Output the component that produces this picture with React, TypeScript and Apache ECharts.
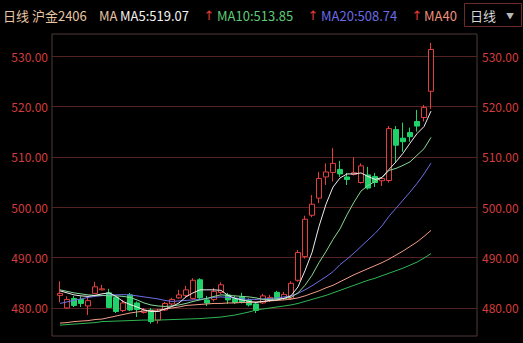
import React, { useEffect, useRef } from 'react';
import * as echarts from 'echarts';

const title = '日线 沪金2406';
const periodLabel = '日线';
const yTicks = [480, 490, 500, 510, 520, 530];
const yMin = 474.44;
const yMax = 534.37;

const opens = [482.5, 480.0, 481.9, 481.7, 480.4, 482.9, 483.6, 483.0, 482.1, 479.5, 482.6, 481.0, 479.1, 479.6, 477.6, 479.6, 480.8, 482.0, 482.5, 481.9, 485.6, 481.6, 481.7, 483.1, 482.6, 481.9, 482.2, 481.5, 480.8, 481.0, 481.5, 483.1, 481.9, 481.9, 485.5, 490.2, 498.4, 501.8, 506.0, 506.9, 507.5, 506.0, 506.5, 504.9, 506.4, 506.1, 505.25, 505.3, 515.4, 513.7, 514.8, 517.0, 517.8, 523.0];
const closes = [482.9, 481.7, 480.5, 480.9, 481.45, 484.2, 483.8, 480.1, 479.3, 481.0, 479.6, 479.7, 479.6, 477.3, 479.3, 480.9, 481.7, 482.6, 483.6, 485.5, 482.0, 481.0, 483.3, 484.6, 481.6, 481.1, 481.2, 480.6, 479.5, 482.4, 482.1, 481.9, 482.7, 484.9, 491.0, 497.6, 500.6, 505.7, 507.0, 508.7, 506.6, 505.5, 506.85, 508.2, 503.8, 504.9, 505.7, 515.6, 512.3, 513.0, 514.0, 516.1, 519.8, 531.3];
const lows = [481.1, 479.8, 480.2, 480.2, 478.6, 482.9, 483.5, 480.0, 479.0, 479.2, 479.4, 478.2, 478.9, 476.9, 476.9, 479.4, 480.5, 481.8, 482.2, 481.7, 481.7, 480.4, 481.3, 482.8, 480.8, 480.8, 480.9, 480.3, 479.0, 480.8, 481.2, 481.7, 481.6, 481.6, 485.2, 489.8, 498.0, 500.8, 504.4, 505.1, 506.0, 504.4, 506.3, 504.7, 503.5, 504.0, 504.2, 504.9, 508.8, 511.0, 513.0, 515.0, 517.0, 519.5];
const highs = [485.3, 482.3, 482.4, 482.3, 482.2, 485.2, 484.6, 483.8, 482.3, 481.6, 483.0, 481.3, 480.0, 480.0, 479.8, 481.2, 482.0, 483.6, 484.4, 485.9, 485.9, 482.4, 484.0, 485.1, 483.0, 482.4, 483.0, 481.9, 481.1, 482.8, 482.6, 483.4, 483.2, 485.3, 491.5, 498.3, 502.4, 507.0, 508.7, 511.7, 509.2, 506.8, 509.9, 508.7, 508.0, 506.8, 506.0, 516.1, 516.1, 516.8, 515.8, 519.3, 520.3, 532.6];

const ma5 = [483.4, 483.0, 482.6, 482.4, 482.3, 482.5, 482.8, 483.0, 482.3, 481.3, 480.7, 480.2, 479.6, 479.3, 479.3, 479.8, 480.3, 481.0, 482.2, 483.0, 483.6, 483.6, 483.6, 483.5, 482.5, 481.9, 481.6, 481.3, 481.1, 481.3, 481.5, 481.6, 481.9, 482.4, 484.2, 487.4, 491.0, 496.2, 500.6, 504.0, 505.8, 506.6, 506.6, 506.8, 506.1, 505.5, 505.9, 507.5, 509.0, 510.7, 512.7, 514.6, 516.0, 519.07];
const ma10 = [483.6, 483.3, 483.0, 482.8, 482.6, 482.5, 482.5, 482.4, 482.4, 482.3, 482.1, 481.6, 481.0, 480.6, 480.4, 480.3, 480.4, 480.6, 480.9, 481.3, 481.6, 481.9, 482.3, 482.6, 482.5, 482.4, 482.3, 482.2, 482.0, 481.7, 481.7, 481.8, 481.9, 482.1, 483.0, 484.5, 486.5, 489.0, 491.2, 493.6, 495.7, 498.5, 501.0, 503.2, 504.3, 505.1, 505.9, 507.3, 507.7, 508.3, 509.0, 510.3, 511.6, 513.85];
const ma20 = [480.9, 481.2, 481.5, 481.8, 482.1, 482.3, 482.45, 482.55, 482.6, 482.65, 482.6, 482.4, 482.2, 482.0, 481.8, 481.5, 481.3, 481.4, 481.5, 481.6, 481.7, 481.9, 482.1, 482.2, 482.1, 482.0, 481.8, 481.7, 481.7, 481.8, 481.9, 482.0, 482.2, 482.4, 482.9, 483.6, 484.4, 485.3, 486.2, 487.2, 488.6, 489.7, 490.9, 492.2, 493.5, 494.8, 496.3, 498.2, 499.8, 501.4, 503.0, 504.7, 506.6, 508.74];
const ma40 = [477.0, 477.1, 477.3, 477.4, 477.5, 477.7, 477.8, 478.1, 478.4, 478.7, 479.0, 479.2, 479.4, 479.5, 479.6, 479.8, 480.0, 480.2, 480.5, 480.6, 480.7, 480.8, 480.9, 480.9, 481.0, 481.0, 481.1, 481.1, 481.2, 481.25, 481.4, 481.5, 481.6, 481.75, 482.0, 482.4, 482.9, 483.4, 484.0, 484.5, 485.2, 485.9, 486.6, 487.2, 487.8, 488.4, 489.0, 489.7, 490.5, 491.3, 492.2, 493.1, 494.2, 495.4];
const ma60 = [476.6, 476.7, 476.8, 476.9, 477.0, 477.1, 477.3, 477.35, 477.4, 477.45, 477.5, 477.55, 477.6, 477.6, 477.6, 477.65, 477.7, 477.75, 477.8, 477.85, 477.9, 478.0, 478.1, 478.2, 478.4, 478.6, 478.9, 479.2, 479.6, 479.8, 480.0, 480.2, 480.4, 480.6, 480.9, 481.3, 481.7, 482.1, 482.5, 483.0, 483.5, 484.0, 484.5, 485.0, 485.5, 485.9, 486.4, 486.9, 487.4, 487.9, 488.5, 489.1, 489.9, 490.8];

const FONT = "'Noto Sans CJK SC', 'Noto Sans', sans-serif";
const UP = '#e2403e';
const DOWN = '#1fd36a';
const C_MA5 = '#ececec';
const C_MA10 = '#86d996';
const C_MA20 = '#6e6ee6';
const C_MA40 = '#f29a86';
const C_MA60 = '#2fb552';

export default function App() {
  const ref = useRef<HTMLDivElement>(null);
  useEffect(() => {
    document.body.style.margin = '0';
    document.body.style.background = '#000';
    const chart = echarts.init(ref.current!, null, { renderer: 'svg' });
    const days = closes.map((_, i) => String(i + 1));
    const candles = opens.map((o, i) => [o, closes[i], lows[i], highs[i]]);
    const last = (a: number[]) => a[a.length - 1].toFixed(2);
    const txt = (x: number, text: string, fill: string, size = 13, align = 'left', font = FONT) => ({
      type: 'text', x, y: 15,
      style: { text, fill, font: `${size}px ${font}`, verticalAlign: 'middle', textAlign: align },
    });
    const arrow = (x: number) => txt(x, '↑', '#e03a3a', 13, 'center', "'DejaVu Sans', sans-serif");
    const line = (name: string, data: number[], color: string) => ({
      name, type: 'line', xAxisIndex: 1, yAxisIndex: 2, data, symbol: 'none',
      lineStyle: { color, width: 1 }, silent: true,
    });
    chart.setOption({
      animation: false,
      backgroundColor: '#000',
      grid: [
        { left: 52, right: 46, top: 34, bottom: 7, show: true, borderColor: '#4f3a3a', borderWidth: 1, backgroundColor: 'transparent' },
        { left: 56.5, width: 378, top: 34, bottom: 7 },
      ],
      xAxis: [
        { type: 'category', gridIndex: 0, show: false, data: days },
        { type: 'category', gridIndex: 1, show: false, data: days, boundaryGap: true },
      ],
      yAxis: [
        {
          type: 'value', gridIndex: 0, position: 'left', min: yMin, max: yMax,
          axisLine: { show: false }, axisTick: { show: false, customValues: yTicks },
          axisLabel: { customValues: yTicks, color: '#d23d3d', fontSize: 12, fontFamily: FONT, margin: 4, formatter: (v: number) => v.toFixed(2) },
          splitLine: { show: true, lineStyle: { color: '#552222', width: 1 } },
        },
        {
          type: 'value', gridIndex: 0, position: 'right', min: yMin, max: yMax,
          axisLine: { show: false }, axisTick: { show: false, customValues: yTicks },
          axisLabel: { customValues: yTicks, color: '#d23d3d', fontSize: 12, fontFamily: FONT, margin: 5, formatter: (v: number) => v.toFixed(2) },
          splitLine: { show: false },
        },
        { type: 'value', gridIndex: 1, min: yMin, max: yMax, show: false, splitLine: { show: false } },
      ],
      series: [
        {
          type: 'candlestick', xAxisIndex: 1, yAxisIndex: 2, data: candles, barWidth: 5,
          itemStyle: { color: '#000', color0: DOWN, borderColor: UP, borderColor0: DOWN, borderWidth: 1 },
        },
        line('MA60', ma60, C_MA60),
        line('MA40', ma40, C_MA40),
        line('MA20', ma20, C_MA20),
        line('MA10', ma10, C_MA10),
        line('MA5', ma5, C_MA5),
      ],
      graphic: [
        txt(3, title, '#e8c6a2'),
        txt(99, 'MA', '#e8c6a2'),
        txt(120, `MA5:${last(ma5)}`, '#f2f2f2'),
        arrow(209),
        txt(217, `MA10:${last(ma10)}`, '#5ccc78'),
        arrow(313),
        txt(321, `MA20:${last(ma20)}`, '#6b6be6'),
        arrow(417),
        txt(424, 'MA40', '#ee8f7c'),
        { type: 'rect', shape: { x: 464.5, y: 3.5, width: 57, height: 23 }, style: { fill: 'none', stroke: '#6b2b2b', lineWidth: 1 } },
        txt(470, periodLabel, '#d6d6d6'),
        txt(506, '▼', '#b8b8b8', 8),
      ],
    });
    return () => chart.dispose();
  }, []);
  return <div ref={ref} style={{ position: 'fixed', left: 0, top: 0, width: 523, height: 343 }} />;
}
